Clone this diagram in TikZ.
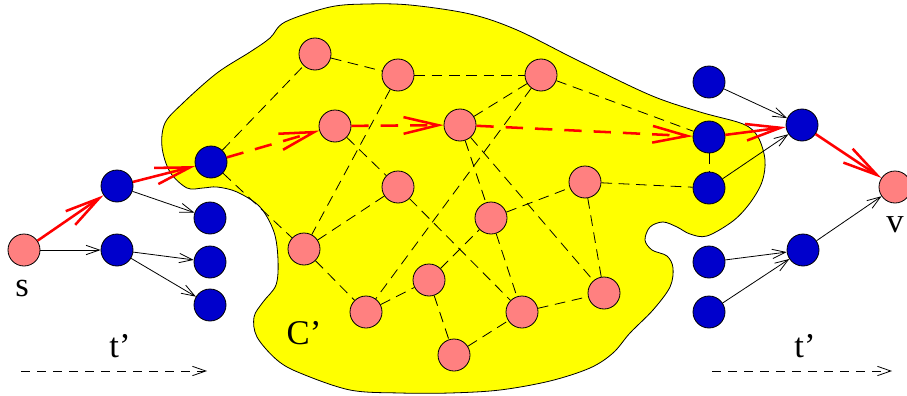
\documentclass[tikz,border=0pt]{standalone}
\usepackage{fontspec}
\setmainfont{Liberation Serif}
\usetikzlibrary{arrows.meta}
\definecolor{pinkc}{RGB}{255,128,128}
\definecolor{bluec}{RGB}{0,0,204}
\definecolor{yel}{RGB}{255,255,0}
\begin{document}
\begin{tikzpicture}[x=0.75pt,y=-0.75pt,
 pn/.style={circle,draw=black,line width=0.6pt,fill=pinkc,minimum size=24pt,inner sep=0pt},
 bn/.style={circle,draw=black,line width=0.6pt,fill=bluec,minimum size=24pt,inner sep=0pt},
 dl/.style={draw=black,line width=0.6pt,dash pattern=on 8pt off 5pt},
 ba/.style={draw=black,line width=0.6pt,-{Straight Barb[length=10pt,width=7pt]}},
 ra/.style={draw=red,line width=1.9pt,-{Straight Barb[length=26pt,width=12.5pt]}},
 rda/.style={ra,dash pattern=on 13pt off 9pt},
 ta/.style={draw=black,line width=0.6pt,dash pattern=on 7pt off 5pt,-{Straight Barb[length=10pt,width=7pt]}},
 lbl/.style={font=\fontsize{26}{30}\selectfont,inner sep=0pt},
]
\useasboundingbox (0,0) rectangle (907,396);
% blob C'
\draw[fill=yel,line width=0.6pt] plot[smooth cycle,tension=0.55] coordinates {
 (285,22) (330,7) (367,4) (410,5) (470,14) (517,30) (577,60) (650,95) (700,112) (743,124)
 (758,137) (765,160) (762,182) (750,203) (733,221) (707,236) (690,234) (677,227) (663,222)
 (650,227) (645,240) (652,250) (667,256) (673,268) (670,287) (653,310) (630,333) (613,353)
 (590,368) (550,381) (500,390) (450,393) (400,393) (350,390) (300,373) (277,360) (257,337)
 (254,317) (263,302) (276,285) (278,260) (274,232) (260,207) (237,192) (217,187) (203,188)
 (187,188) (170,172) (162,147) (165,123) (183,103) (217,73) (250,52) (270,38)};
% nodes
\node[pn] (s) at (24,250) {};
\node[bn] (b1) at (117,186) {};
\node[bn] (b2) at (117,250) {};
\node[bn] (b3) at (210,218) {};
\node[bn] (b4) at (210,262) {};
\node[bn] (b5) at (210,305) {};
\node[bn] (c0) at (211,162) {};
\node[pn] (p1) at (315,54) {};
\node[pn] (p2) at (398,75) {};
\node[pn] (p3) at (541,75) {};
\node[pn] (p4) at (335,126) {};
\node[pn] (p5) at (460,125) {};
\node[pn] (p6) at (398,187) {};
\node[pn] (p7) at (585,182) {};
\node[pn] (p8) at (491,218) {};
\node[pn] (p9) at (304,249) {};
\node[pn] (p10) at (429,280) {};
\node[pn] (p11) at (366,312) {};
\node[pn] (p12) at (522,312) {};
\node[pn] (p13) at (604,293) {};
\node[pn] (p14) at (454,355) {};
\node[bn] (r1) at (709,82) {};
\node[bn] (r2) at (709,137) {};
\node[bn] (r3) at (709,188) {};
\node[bn] (r4) at (709,262) {};
\node[bn] (r5) at (709,312) {};
\node[bn] (q1) at (802,125) {};
\node[bn] (q2) at (803,250) {};
\node[pn] (v) at (895,187) {};
% labels
\node[lbl] (ls) at (22,288) {s};
\node[lbl] (lc) at (304,333) {C'};
\node[lbl] (lt1) at (120,346) {t'};
\node[lbl] (lt2) at (805,346) {t'};
\node[lbl] (lv) at (895,225) {v};
% dashed edges inside C'
\draw[dl] (c0) -- (p1);
\draw[dl] (c0) -- (p9);
\draw[dl] (p1) -- (p2);
\draw[dl] (p2) -- (p3);
\draw[dl] (p2) -- (p9);
\draw[dl] (p3) -- (p5);
\draw[dl] (p3) -- (p11);
\draw[dl] (p3) -- (r2);
\draw[dl] (p4) -- (p6);
\draw[dl] (p5) -- (p8);
\draw[dl] (p5) -- (p13);
\draw[dl] (p6) -- (p9);
\draw[dl] (p6) -- (p12);
\draw[dl] (p9) -- (p11);
\draw[dl] (p11) -- (p10);
\draw[dl] (p10) -- (p8);
\draw[dl] (p10) -- (p14);
\draw[dl] (p14) -- (p12);
\draw[dl] (p8) -- (p12);
\draw[dl] (p12) -- (p13);
\draw[dl] (p8) -- (p7);
\draw[dl] (p7) -- (p13);
\draw[dl] (p7) -- (r3);
\draw[dl] (r2) -- (r3);
% black arrows
\draw[ba] (s) -- (b2);
\draw[ba] (b1) -- (b3);
\draw[ba] (b2) -- (b4);
\draw[ba] (b2) -- (b5);
\draw[ba] (r1) -- (q1);
\draw[ba] (r3) -- (q1);
\draw[ba] (r4) -- (q2);
\draw[ba] (r5) -- (q2);
\draw[ba] (q2) -- (v);
% red path
\draw[ra] (s) -- (b1);
\draw[ra] (b1) -- (c0);
\draw[rda] (c0) -- (p4);
\draw[rda] (p4) -- (p5);
\draw[rda] (p5) -- (r2);
\draw[ra] (r2) -- (q1);
\draw[ra] (q1) -- (v);
% time arrows
\coordinate (t1a) at (21,371);
\coordinate (t1b) at (207,371);
\coordinate (t2a) at (712,371);
\coordinate (t2b) at (892,371);
\draw[ta] (t1a) -- (t1b);
\draw[ta] (t2a) -- (t2b);
\end{tikzpicture}
\end{document}
